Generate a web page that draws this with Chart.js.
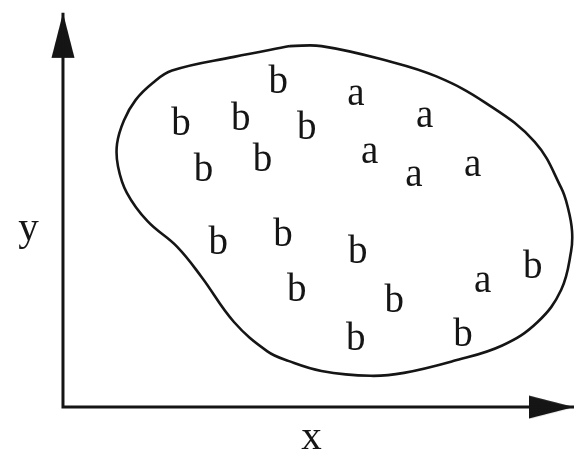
<!DOCTYPE html>
<html>
<head>
<meta charset="utf-8">
<title>a / b regions</title>
<script src="https://cdn.jsdelivr.net/npm/chart.js@4.4.1/dist/chart.umd.min.js"></script>
<style>
  html, body { margin: 0; padding: 0; background: #fff; }
  canvas { display: block; }
</style>
</head>
<body>
<canvas id="plot" width="579" height="462"></canvas>
<script>
// data units: origin at the axis corner
const bX = [219, 120, 181, 143, 203, 248, 158, 224, 300, 238, 337, 478, 298, 407];
const bY = [321, 278, 283, 231, 241, 274, 157, 165, 147, 108,  97, 132,  58,  62];
const aX = [298, 368, 312, 357, 417, 427];
const aY = [309, 286, 249, 226, 236, 118];

// closed boundary, clockwise from the top
const outlineX = [231, 263, 330, 380, 430, 480, 507, 514, 518, 517, 507, 483, 447, 397, 347, 313, 263, 230, 208, 174, 141, 116,  86,  65,  56,  55,  62,  74,  91, 111, 174, 231];
const outlineY = [369, 369, 354, 338, 311, 271, 224, 203, 180, 159, 120,  87,  63,  47,  35,  32,  37,  47,  57,  87, 133, 164, 190, 219, 246, 269, 293, 314, 331, 344, 358, 369];

const axisNames = ['x', 'y'];
const axisNameX = [253, -35];
const axisNameY = [-43, 171];
const axisTipX = 520;
const axisTipY = 403;

const ink = '#151515';

function toPoints(xs, ys) {
    return xs.map((x, i) => ({ x: x, y: ys[i] }));
}

// arrowhead drawn with its tip at the canvas centre, pointing up
function makeArrowHead() {
    const c = document.createElement('canvas');
    c.width = 24;
    c.height = 92;
    const g = c.getContext('2d');
    g.fillStyle = ink;
    g.beginPath();
    g.moveTo(12, 46);
    g.lineTo(23.5, 91);
    g.lineTo(0.5, 91);
    g.closePath();
    g.fill();
    return c;
}
const arrowHead = makeArrowHead();

// draws the text glyph of a dataset at each of its points
const glyphPlugin = {
    id: 'glyphs',
    afterDatasetsDraw(chart) {
        const ctx = chart.ctx;
        ctx.save();
        ctx.fillStyle = ink;
        ctx.textAlign = 'center';
        ctx.textBaseline = 'alphabetic';
        chart.data.datasets.forEach((ds, i) => {
            if (!ds.glyphs) return;
            ctx.font = ds.glyphFont;
            const meta = chart.getDatasetMeta(i);
            meta.data.forEach((pt, j) => {
                ctx.fillText(ds.glyphs[j], pt.x, pt.y);
            });
        });
        ctx.restore();
    }
};

const letterFont = '39px "Liberation Serif", "DejaVu Serif", serif';

new Chart(document.getElementById('plot'), {
    type: 'scatter',
    data: {
        datasets: [
            {
                label: 'boundary',
                data: toPoints(outlineX, outlineY),
                showLine: true,
                tension: 0.4,
                borderColor: ink,
                borderWidth: 2.6,
                pointRadius: 0,
                fill: false
            },
            {
                label: 'axes',
                data: [{ x: 0, y: axisTipY }, { x: 0, y: 0 }, { x: axisTipX, y: 0 }],
                showLine: true,
                tension: 0,
                borderColor: ink,
                borderWidth: 3,
                pointRadius: 0
            },
            {
                label: 'arrows',
                data: [{ x: 0, y: axisTipY }, { x: axisTipX, y: 0 }],
                showLine: false,
                pointStyle: arrowHead,
                pointRotation: [0, 90]
            },
            {
                label: 'b',
                data: toPoints(bX, bY),
                pointRadius: 0,
                glyphs: bX.map(() => 'b'),
                glyphFont: letterFont
            },
            {
                label: 'a',
                data: toPoints(aX, aY),
                pointRadius: 0,
                glyphs: aX.map(() => 'a'),
                glyphFont: letterFont
            },
            {
                label: 'axis names',
                data: toPoints(axisNameX, axisNameY),
                pointRadius: 0,
                glyphs: axisNames,
                glyphFont: '41px "Liberation Serif", "DejaVu Serif", serif'
            }
        ]
    },
    options: {
        responsive: false,
        animation: false,
        layout: { padding: 0 },
        plugins: {
            legend: { display: false },
            tooltip: { enabled: false }
        },
        scales: {
            x: { type: 'linear', min: -59, max: 520, display: false },
            y: { type: 'linear', min: -51, max: 411, display: false }
        }
    },
    plugins: [glyphPlugin]
});
</script>
</body>
</html>
